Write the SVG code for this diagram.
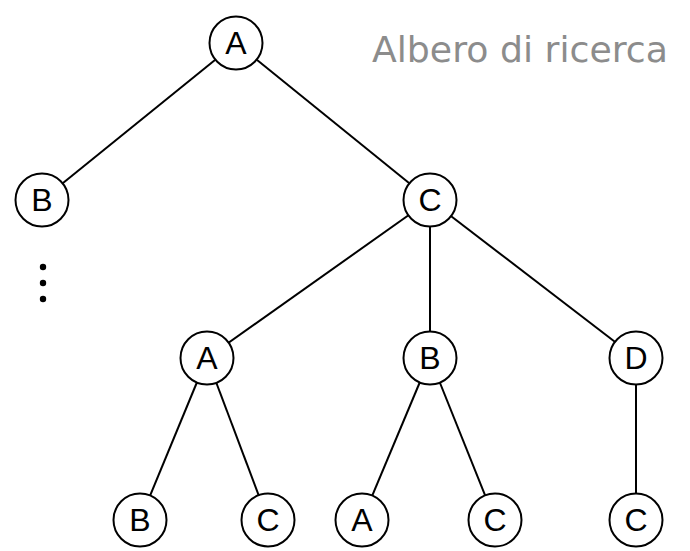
<svg xmlns="http://www.w3.org/2000/svg" width="690" height="551" viewBox="0 0 690 551">
  <style>
    .edge { stroke: #000; stroke-width: 2; fill: none; }
    .node circle { fill: #fff; stroke: #000; stroke-width: 2; }
    .node text { font-family: "Liberation Sans", Arial, sans-serif; font-size: 32px; text-anchor: middle; dominant-baseline: central; fill: #000; }
    .title { font-family: "DejaVu Sans", Verdana, sans-serif; font-size: 36px; fill: #8c8c8c; }
  </style>
  <rect width="690" height="551" fill="#fff"/>

  <text class="title" x="372" y="62" textLength="296" lengthAdjust="spacingAndGlyphs">Albero di ricerca</text>

  <!-- tree edges, drawn centre to centre under the filled circles -->
  <g id="edges">
    <line class="edge" x1="236" y1="43" x2="42" y2="200"/>
    <line class="edge" x1="236" y1="43" x2="430" y2="200"/>
    <line class="edge" x1="430" y1="200" x2="207" y2="358"/>
    <line class="edge" x1="430" y1="200" x2="430" y2="358"/>
    <line class="edge" x1="430" y1="200" x2="636" y2="358"/>
    <line class="edge" x1="207" y1="358" x2="140" y2="520"/>
    <line class="edge" x1="207" y1="358" x2="268" y2="520"/>
    <line class="edge" x1="430" y1="358" x2="362" y2="520"/>
    <line class="edge" x1="430" y1="358" x2="495" y2="520"/>
    <line class="edge" x1="636" y1="358" x2="636" y2="520"/>
  </g>

  <!-- continuation marks below B -->
  <g id="ellipsis" fill="#000">
    <circle cx="43" cy="267" r="3.2"/>
    <circle cx="43" cy="283" r="3.2"/>
    <circle cx="43" cy="299" r="3.2"/>
  </g>

  <g id="n-root" class="node"><circle cx="236" cy="43" r="26.5"/><text x="236" y="43">A</text></g>
  <g id="n-b1" class="node"><circle cx="42" cy="200" r="26.5"/><text x="42" y="200">B</text></g>
  <g id="n-c1" class="node"><circle cx="430" cy="200" r="26.5"/><text x="430" y="200">C</text></g>
  <g id="n-a2" class="node"><circle cx="207" cy="358" r="26.5"/><text x="207" y="358">A</text></g>
  <g id="n-b2" class="node"><circle cx="430" cy="358" r="26.5"/><text x="430" y="358">B</text></g>
  <g id="n-d2" class="node"><circle cx="636" cy="358" r="26.5"/><text x="636" y="358">D</text></g>
  <g id="n-b3" class="node"><circle cx="140" cy="520" r="26.5"/><text x="140" y="520">B</text></g>
  <g id="n-c3a" class="node"><circle cx="268" cy="520" r="26.5"/><text x="268" y="520">C</text></g>
  <g id="n-a3" class="node"><circle cx="362" cy="520" r="26.5"/><text x="362" y="520">A</text></g>
  <g id="n-c3b" class="node"><circle cx="495" cy="520" r="26.5"/><text x="495" y="520">C</text></g>
  <g id="n-c3c" class="node"><circle cx="636" cy="520" r="26.5"/><text x="636" y="520">C</text></g>
</svg>
